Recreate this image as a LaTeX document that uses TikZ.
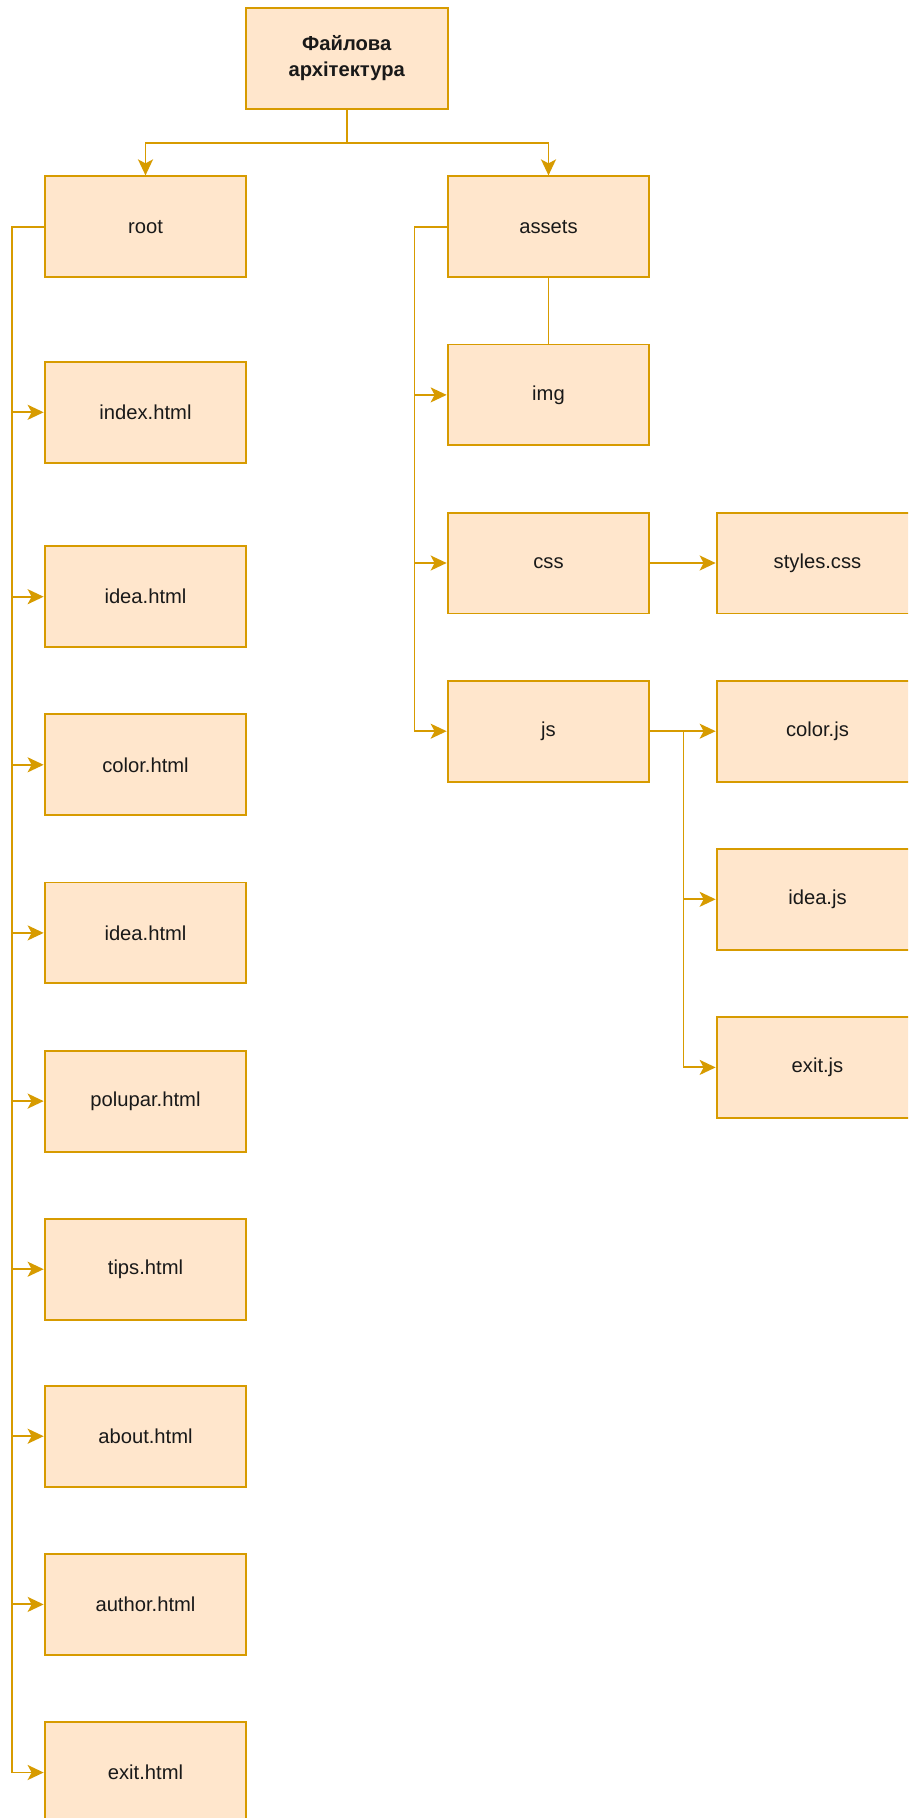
\documentclass[tikz,border=0pt]{standalone}
\usepackage{fontspec}
\setmainfont{Liberation Sans}
\usetikzlibrary{arrows.meta}
\definecolor{boxfill}{HTML}{FFE6CC}
\definecolor{boxline}{HTML}{D79B00}
\tikzset{
  filebox/.style={draw=boxline, fill=boxfill, line width=1.9pt, rectangle,
    minimum width=201.8pt, minimum height=100.9pt, inner sep=0pt,
    font=\fontsize{20.2}{26}\selectfont, text=black!90, align=center},
  conn/.style={draw=boxline, line width=1.9pt},
  arr/.style={conn, -{Stealth[length=16pt, width=15pt, inset=4pt]}},
}
\begin{document}
\begin{tikzpicture}[x=1pt, y=-1pt]
\useasboundingbox (0,0) rectangle (908,1818);
\clip (0,0) rectangle (908,1818);

% top
\node[filebox, font=\bfseries\fontsize{20.2}{26}\selectfont] (top) at (346.7,58.5) {Файлова\\архітектура};

% root column
\node[filebox] (root)    at (145.5,226.8)  {root};
\node[filebox] (index)   at (145.5,412.3)  {index.html};
\node[filebox] (idea)    at (145.5,596.7)  {idea.html};
\node[filebox] (color)   at (145.5,764.8)  {color.html};
\node[filebox] (ideab)   at (145.5,932.9)  {idea.html};
\node[filebox] (polupar) at (145.5,1101.1) {polupar.html};
\node[filebox] (tips)    at (145.5,1269.2) {tips.html};
\node[filebox] (about)   at (145.5,1436.2) {about.html};
\node[filebox] (author)  at (145.5,1604.4) {author.html};
\node[filebox] (exit)    at (145.5,1772.5) {exit.html};

% assets column
\node[filebox] (assets) at (548.5,226.8) {assets};
\node[filebox] (img)    at (548.5,394.9) {img};
\node[filebox] (css)    at (548.5,563.0) {css};
\node[filebox] (js)     at (548.5,731.2) {js};

% leaf files
\node[filebox] (styles) at (817.5,563.0)  {styles.css};
\node[filebox] (colorjs) at (817.5,731.2) {color.js};
\node[filebox] (ideajs) at (817.5,899.3)  {idea.js};
\node[filebox] (exitjs) at (817.5,1067.4) {exit.js};

% bus coordinates
\coordinate (split) at (346.7,142.7);
\coordinate (rootbus) at (11.6,0);
\coordinate (assetsbus) at (414.5,0);
\coordinate (jsbus) at (683.5,0);

% top split
\draw[arr] (top.south) -- (split) -| (root.north);
\draw[arr] (top.south) -- (split) -| (assets.north);

% root children
\foreach \c in {index,idea,color,ideab,polupar,tips,about,author,exit}
  \draw[arr] (root.west) -- (root.west -| rootbus) |- (\c.west);

% assets children
\draw[conn] (assets.south) -- (img.north);
\foreach \c in {img,css,js}
  \draw[arr] (assets.west) -- (assets.west -| assetsbus) |- (\c.west);

% css and js contents
\draw[arr] (css.east) -- (styles.west);
\draw[arr] (js.east) -- (colorjs.west);
\foreach \c in {ideajs,exitjs}
  \draw[arr] (js.east) -- (js.east -| jsbus) |- (\c.west);
\end{tikzpicture}
\end{document}
